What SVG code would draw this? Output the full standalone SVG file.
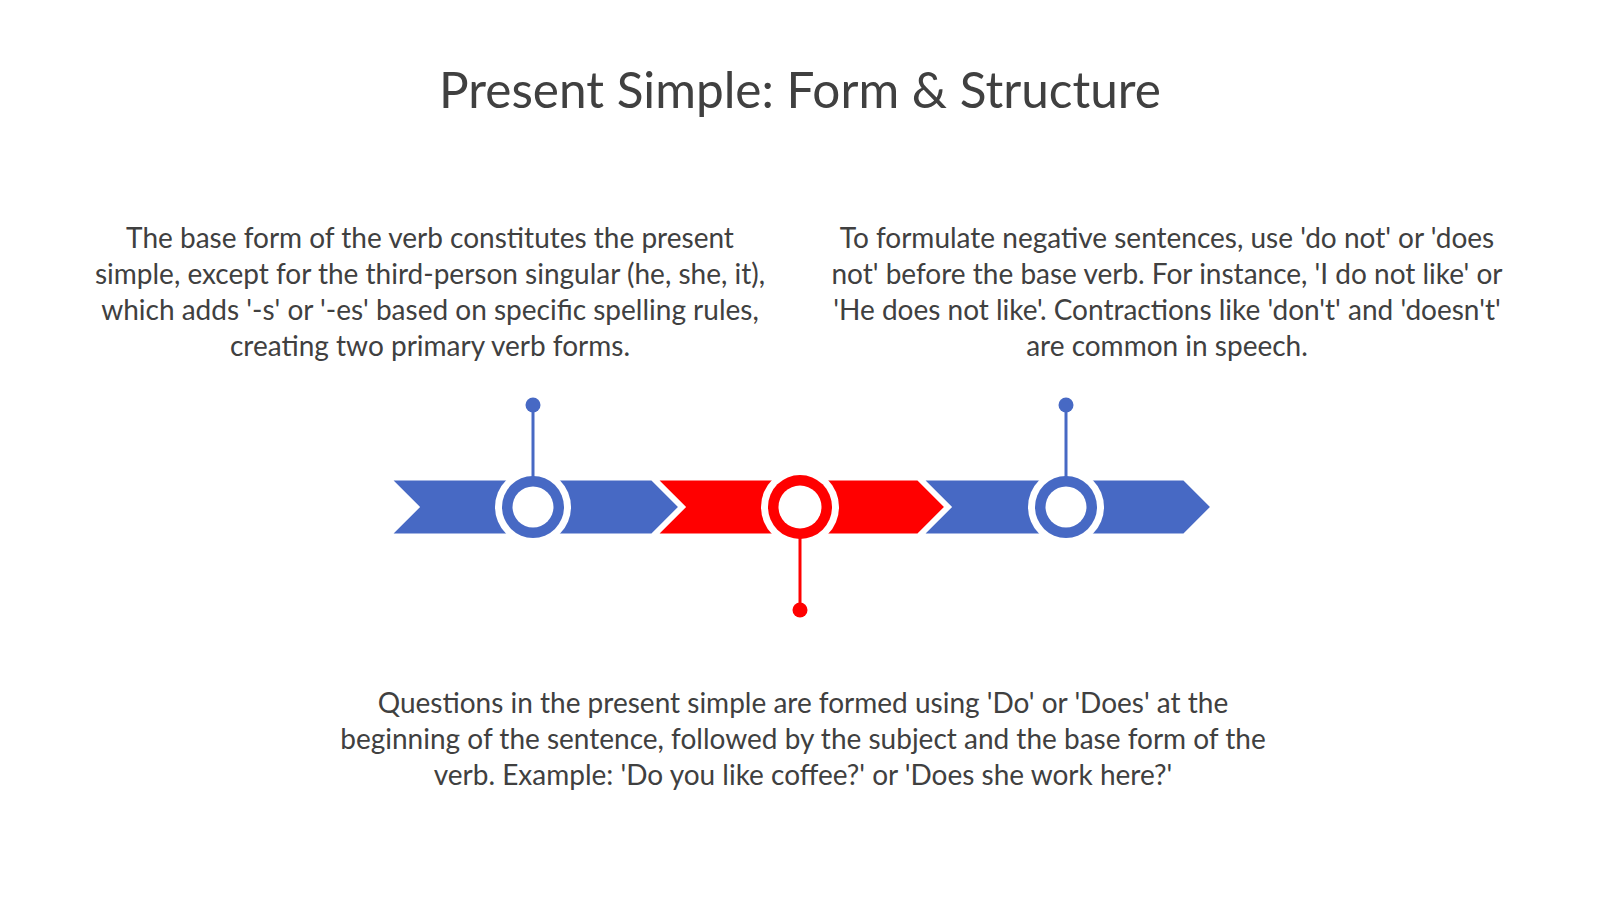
<svg xmlns="http://www.w3.org/2000/svg" width="1600" height="899" viewBox="0 0 1600 899">
<style>
.t{font-family:Lato,"Liberation Sans",sans-serif;fill:#404040;text-anchor:middle}
.title{font-size:49.5px}
.body{font-size:28px}
.blue{fill:#4769C4}
.red{fill:#FF0000}
.sep{stroke:#FFFFFF;stroke-width:3;stroke-linejoin:miter}
</style>
<rect width="1600" height="899" fill="#FFFFFF"/>
<text class="t title" x="800" y="108">Present Simple: Form &amp; Structure</text>
<g id="node-1">
<polygon class="blue sep" points="390,479 652,479 680,507 652,535 390,535 418,507"/>
<circle cx="533" cy="507" r="38" fill="#FFFFFF"/>
<circle cx="533" cy="507" r="31" class="blue"/>
<circle cx="533" cy="507" r="20.5" fill="#FFFFFF"/>
<text class="t body" x="430" y="248">The base form of the verb constitutes the present</text>
<text class="t body" x="430" y="284">simple, except for the third-person singular (he, she, it),</text>
<text class="t body" x="430" y="320">which adds '-s' or '-es' based on specific spelling rules,</text>
<text class="t body" x="430" y="356">creating two primary verb forms.</text>
</g>
<g id="node-2">
<polygon class="red sep" points="656,479 918,479 946,507 918,535 656,535 684,507"/>
<circle cx="800" cy="507" r="39" fill="#FFFFFF"/>
<circle cx="800" cy="507" r="32" class="red"/>
<circle cx="800" cy="507" r="21.5" fill="#FFFFFF"/>
<text class="t body" x="803" y="713">Questions in the present simple are formed using 'Do' or 'Does' at the</text>
<text class="t body" x="803" y="749">beginning of the sentence, followed by the subject and the base form of the</text>
<text class="t body" x="803" y="785">verb. Example: 'Do you like coffee?' or 'Does she work here?'</text>
</g>
<g id="node-3">
<polygon class="blue sep" points="922,479 1184,479 1212,507 1184,535 922,535 950,507"/>
<circle cx="1066" cy="507" r="38" fill="#FFFFFF"/>
<circle cx="1066" cy="507" r="31" class="blue"/>
<circle cx="1066" cy="507" r="20.5" fill="#FFFFFF"/>
<text class="t body" x="1167" y="248">To formulate negative sentences, use 'do not' or 'does</text>
<text class="t body" x="1167" y="284">not' before the base verb. For instance, 'I do not like' or</text>
<text class="t body" x="1167" y="320">'He does not like'. Contractions like 'don't' and 'doesn't'</text>
<text class="t body" x="1167" y="356">are common in speech.</text>
</g>
<g id="connectors">
<line x1="533" y1="405" x2="533" y2="477" stroke="#4769C4" stroke-width="3"/>
<circle cx="533" cy="405" r="7.5" class="blue"/>
<line x1="800" y1="538" x2="800" y2="610" stroke="#FF0000" stroke-width="3"/>
<circle cx="800" cy="610" r="7.5" class="red"/>
<line x1="1066" y1="405" x2="1066" y2="477" stroke="#4769C4" stroke-width="3"/>
<circle cx="1066" cy="405" r="7.5" class="blue"/>
</g>
</svg>
